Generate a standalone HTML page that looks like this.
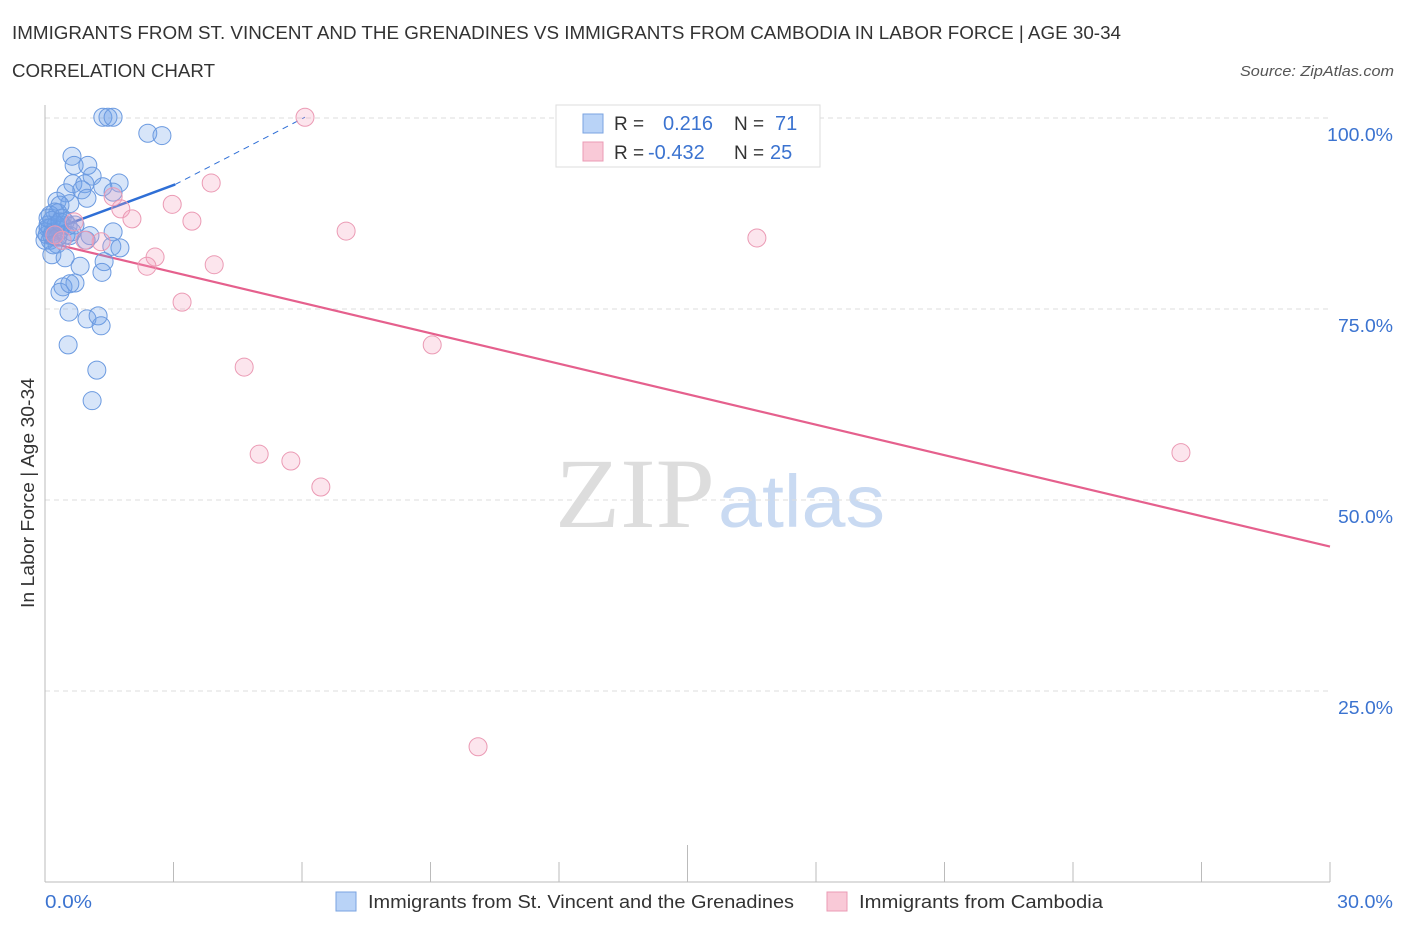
<!DOCTYPE html>
<html><head><meta charset="utf-8"><style>
body{margin:0;background:#fff;font-family:"Liberation Sans",sans-serif;}
svg{display:block}
</style></head><body>
<svg id="chart" width="1406" height="930">
<text x="12" y="39" font-size="18" fill="#333" textLength="1109" lengthAdjust="spacingAndGlyphs">IMMIGRANTS FROM ST. VINCENT AND THE GRENADINES VS IMMIGRANTS FROM CAMBODIA IN LABOR FORCE | AGE 30-34</text>
<text x="12" y="77" font-size="18" fill="#333" textLength="203" lengthAdjust="spacingAndGlyphs">CORRELATION CHART</text>
<text x="1240" y="76" font-size="15" fill="#555" font-style="italic" textLength="154" lengthAdjust="spacingAndGlyphs">Source: ZipAtlas.com</text>
<text x="555" y="527" font-size="100" fill="#ddd" textLength="160" lengthAdjust="spacingAndGlyphs" font-family="Liberation Serif,serif">ZIP</text>
<text x="718" y="527" font-size="74" fill="#c9daf2" textLength="167" lengthAdjust="spacingAndGlyphs">atlas</text>
<g id="grid"></g><g id="axes"></g><g id="trend"></g><g id="pts"></g>
<text transform="translate(34,493) rotate(-90)" font-size="18" fill="#333" text-anchor="middle" textLength="230" lengthAdjust="spacingAndGlyphs">In Labor Force | Age 30-34</text>
<text x="45" y="908" font-size="18" fill="#3b73d0" textLength="47" lengthAdjust="spacingAndGlyphs">0.0%</text>
<text x="1337" y="908" font-size="18" fill="#3b73d0" textLength="56" lengthAdjust="spacingAndGlyphs">30.0%</text>
<g>
<rect x="556" y="105" width="264" height="62" fill="#fff" stroke="#ddd"/>
<rect x="583" y="114" width="20" height="19" fill="#b9d3f7" stroke="#7aa3e0"/>
<rect x="583" y="142" width="20" height="19" fill="#f9c9d7" stroke="#eb9bb4"/>
<text x="614" y="130" font-size="19" fill="#333">R = </text><text x="663" y="130" font-size="20" fill="#3b73d0">0.216</text>
<text x="734" y="130" font-size="19" fill="#333">N = </text><text x="775" y="130" font-size="20" fill="#3b73d0">71</text>
<text x="614" y="159" font-size="19" fill="#333">R = </text><text x="648" y="159" font-size="20" fill="#3b73d0">-0.432</text>
<text x="734" y="159" font-size="19" fill="#333">N = </text><text x="770" y="159" font-size="20" fill="#3b73d0">25</text>
</g>
<g>
<rect x="336" y="892" width="20" height="19" fill="#b9d3f7" stroke="#7aa3e0"/>
<text x="368" y="908" font-size="18" fill="#333" textLength="426" lengthAdjust="spacingAndGlyphs">Immigrants from St. Vincent and the Grenadines</text>
<rect x="827" y="892" width="20" height="19" fill="#f9c9d7" stroke="#eb9bb4"/>
<text x="859" y="908" font-size="18" fill="#333" textLength="244" lengthAdjust="spacingAndGlyphs">Immigrants from Cambodia</text>
</g>
</svg>
<script>
const yTicks=[25,50,75,100];
const yTickLabels=["25.0%","50.0%","75.0%","100.0%"];
const xTicks=[0,3,6,9,12,15,18,21,24,27,30];
const blueX=[1.35,1.47,1.59,2.40,2.73,0.63,0.68,1.00,1.10,0.65,0.93,1.73,1.35,0.49,0.86,1.59,0.98,0.28,0.58,0.35,0.23,0.12,0.30,0.40,0.16,0.47,0.54,0.07,0.12,0.19,0.05,0.23,0.35,0.58,1.05,0.96,1.59,0.12,0.0,1.56,1.75,0.28,0.16,0.47,1.38,0.82,1.33,0.42,0.35,0.70,0.58,0.56,0.98,1.24,1.31,0.54,1.21,1.10,0.07,0.16,0.40,0.26,0.0,0.30,0.49,0.07,0.35,0.19,0.63,0.70];
const blueY=[100.1,100.1,100.1,98.0,97.7,95.0,93.8,93.8,92.4,91.4,91.4,91.5,91.0,90.2,90.6,90.3,89.5,89.1,88.8,88.6,87.7,87.3,87.6,86.9,86.6,86.4,85.9,86.0,85.6,85.1,84.7,84.7,85.3,84.6,84.6,84.0,85.1,84.0,84.0,83.2,83.0,83.5,82.1,81.7,81.2,80.6,79.8,77.9,77.2,78.4,78.3,74.6,73.7,74.1,72.8,70.3,67.0,63.0,85.6,84.6,86.0,86.0,85.1,84.4,84.7,86.9,86.4,83.4,85.1,86.0];
const pinkX=[6.07,3.88,1.59,1.77,2.03,2.97,3.43,7.03,16.62,0.68,1.31,2.57,2.38,3.95,3.20,9.04,4.65,5.00,5.74,6.44,26.52,10.11,0.23,0.40,0.93];
const pinkY=[100.1,91.5,89.7,88.1,86.8,88.7,86.5,85.2,84.3,86.4,83.8,81.8,80.6,80.8,75.9,70.3,67.4,56.0,55.1,51.7,56.2,17.7,84.7,84.0,84.0];
const blueTrend=[[0,85.0],[3.04,91.3],[6.07,100.1]];
const pinkTrend=[[0,83.8],[30,43.9]];
const NS="http://www.w3.org/2000/svg";
const xs=v=>45+v*1285/30, ys=v=>882-v*7.64;
function mk(tag,attrs,parent){const e=document.createElementNS(NS,tag);for(const k in attrs)e.setAttribute(k,attrs[k]);document.getElementById(parent).appendChild(e);return e;}
yTicks.forEach((t,i)=>{
 const g=mk('line',{x1:45,x2:1330,y1:ys(t),y2:ys(t),stroke:'#ddd','stroke-dasharray':'5,4'},'grid');
 
 
 const w=yTickLabels[i].length>5?66:55;
 const l=mk('text',{x:1393-w,y:ys(t)+23,'font-size':18,fill:'#3b73d0',textLength:w,lengthAdjust:'spacingAndGlyphs'},'grid');
 l.textContent=yTickLabels[i];
 
 
});
const ya=mk('line',{x1:45,x2:45,y1:105,y2:882,stroke:'#bbb'},'axes');


const xa=mk('line',{x1:45,x2:1330,y1:882,y2:882,stroke:'#bbb'},'axes');


xTicks.forEach(t=>{
 if(t===0)return;
 const tk=mk('line',{x1:xs(t),x2:xs(t),y1:t===15?845:862,y2:882,stroke:'#bbb'},'axes');
 
 
});
blueX.forEach((x,i)=>{
 const c=mk('circle',{cx:xs(x),cy:ys(blueY[i]),r:9,fill:'rgba(110,160,235,0.28)',stroke:'#6b9ae0','stroke-width':1},'pts');
 
 
});
pinkX.forEach((x,i)=>{
 const c=mk('circle',{cx:xs(x),cy:ys(pinkY[i]),r:9,fill:'rgba(245,160,190,0.28)',stroke:'#eb9ab4','stroke-width':1},'pts');
 
 
});
const b1=mk('line',{x1:xs(blueTrend[0][0]),y1:ys(blueTrend[0][1]),x2:xs(blueTrend[1][0]),y2:ys(blueTrend[1][1]),stroke:'#2f6fd6','stroke-width':2.5},'trend');


const b2=mk('line',{x1:xs(blueTrend[1][0]),y1:ys(blueTrend[1][1]),x2:xs(blueTrend[2][0]),y2:ys(blueTrend[2][1]),stroke:'#2f6fd6','stroke-width':1,'stroke-dasharray':'6,5'},'trend');


const p1=mk('line',{x1:xs(pinkTrend[0][0]),y1:ys(pinkTrend[0][1]),x2:xs(pinkTrend[1][0]),y2:ys(pinkTrend[1][1]),stroke:'#e5608d','stroke-width':2.2},'trend');


</script>
</body></html>
